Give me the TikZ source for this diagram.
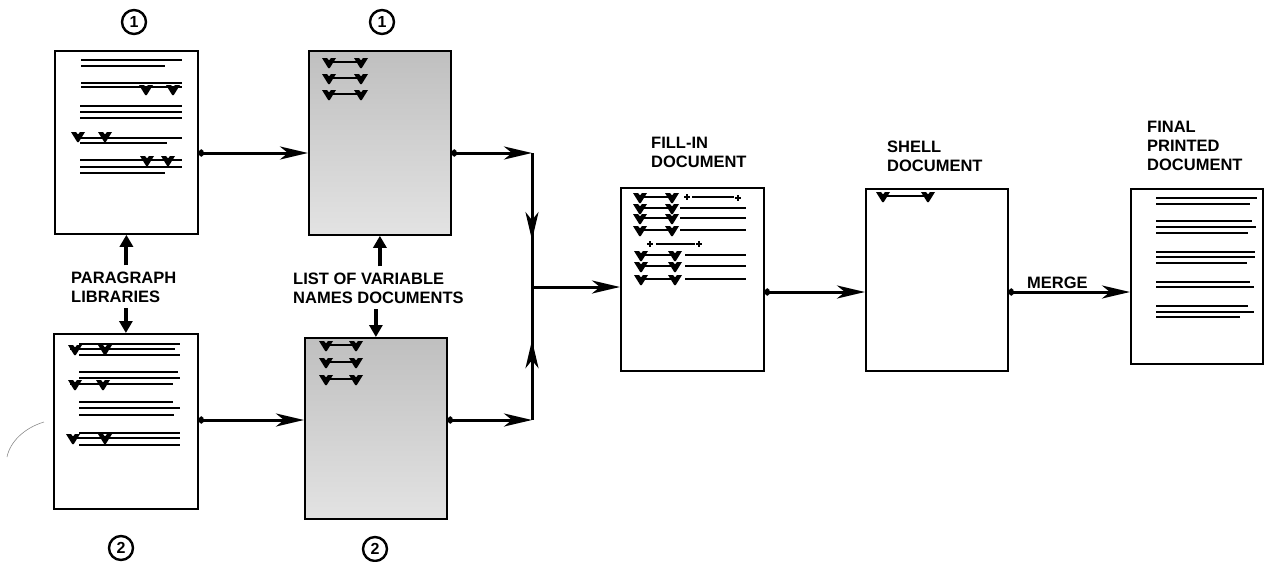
\documentclass[tikz,border=0pt]{standalone}
\usepackage{fontspec}
\setmainfont{Liberation Sans}
\usetikzlibrary{arrows.meta, positioning, calc}
\tikzset{
  font=\bfseries\fontsize{16.5}{19}\selectfont,
  >={Stealth[length=28pt, width=13pt, inset=8pt]},
  %
  page/.style={draw=black, line width=1.8pt, fill=white, anchor=north west,
               inner sep=0pt},
  pageg/.style={page, top color=black!25, bottom color=black!11},
  %
  txt/.style={line width=1.2pt},
  flow/.style={draw=black, line width=3pt, {Circle[length=5pt, width=7pt]}->},
  flowmid/.style={draw=black, line width=3pt, ->},
  wire/.style={draw=black, line width=3pt},
  feed/.style={draw=black, line width=4pt, -{Triangle[length=12pt, width=13pt]}},
  %
  lbl/.style={align=left, anchor=base west, inner xsep=0pt, inner ysep=6pt},
  num/.style={circle, draw, line width=2.4pt, inner sep=0pt, minimum size=24pt,
              font=\bfseries\fontsize{16}{16}\selectfont},
}
\newcommand{\tline}[3]{\draw[txt] (#1,#3) -- (#2,#3);}
\newcommand{\vmk}[2]{%
  \fill (#1-7,#2-5) -- (#1-2,#2-5) -- (#1,#2-2.5) -- (#1+2,#2-5)
        -- (#1+7,#2-5) -- (#1+0.8,#2+5) -- (#1-0.8,#2+5) -- cycle;}
\newcommand{\pmk}[2]{\draw[txt] (#1-3,#2) -- (#1+3,#2) (#1,#2-3) -- (#1,#2+3);}

\begin{document}
\begin{tikzpicture}[x=1pt, y=-1pt]
  \useasboundingbox (0,0) rectangle (1264,562);

  % ---- pages ------------------------------------------------------------
  \node[page,  minimum width=143pt, minimum height=183pt] (lib1)  at (54,50)   {};
  \node[pageg, minimum width=142pt, minimum height=184pt] (var1)  at (308,50)  {};
  \node[page,  minimum width=144pt, minimum height=175pt] (lib2)  at (53,333)  {};
  \node[pageg, minimum width=142pt, minimum height=181pt] (var2)  at (304,337) {};
  \node[page,  minimum width=143pt, minimum height=183pt] (fill)  at (620,187) {};
  \node[page,  minimum width=142pt, minimum height=182pt] (shell) at (865,188) {};
  \node[page,  minimum width=132pt, minimum height=175pt] (final) at (1130,188) {};

  % ---- numbers ----------------------------------------------------------
  \node[num] (n1a) at (134,22)  {1};
  \node[num] (n1b) at (382,22)  {1};
  \node[num] (n2a) at (121,548) {2};
  \node[num] (n2b) at (375,549) {2};

  % ---- labels -----------------------------------------------------------
  \node[lbl] (plib)  at (71,302)   {PARAGRAPH\\LIBRARIES};
  \node[lbl] (vlist) at (293,303)  {LIST OF VARIABLE\\NAMES  DOCUMENTS};
  \node[lbl] (tfill) at (651,167)  {FILL-IN\\DOCUMENT};
  \node[lbl] (tshel) at (887,171)  {SHELL\\DOCUMENT};
  \node[lbl] (tfin)  at (1147,170) {FINAL\\PRINTED\\DOCUMENT};
  \node[lbl] (tmrg)  at (1027,288) {MERGE};

  % ---- page contents ----------------------------------------------------
  % paragraph library 1
  \foreach \y/\a/\b in {60/81/182, 66/81/165, 83/81/182, 87/81/182,
                        106/80/182, 112/80/182, 118/80/182, 138/78/182,
                        143/80/167, 160/80/182, 167/80/182, 173/80/165}
    {\tline{\a}{\b}{\y}}
  \vmk{146}{90} \vmk{173}{90}
  \vmk{78}{137} \vmk{105}{137}
  \vmk{147}{161} \vmk{168}{161}

  % variable names 1
  \foreach \y in {63,79,95} {
    \tline{329}{361}{\y-1} \vmk{329}{\y} \vmk{361}{\y}
  }

  % paragraph library 2
  \foreach \y/\a/\b in {344/79/180, 349/70/175, 355/79/180, 372/79/178,
                        378/79/180, 384/70/173, 402/79/173, 408/79/180,
                        415/79/174, 433/79/180, 438/70/180, 445/79/180}
    {\tline{\a}{\b}{\y}}
  \vmk{75}{350} \vmk{105}{350}
  \vmk{75}{385} \vmk{103}{385}
  \vmk{73}{439} \vmk{105}{439}

  % variable names 2
  \foreach \y in {346,363,380} {
    \tline{326}{356}{\y-1} \vmk{326}{\y} \vmk{356}{\y}
  }

  % fill-in document
  \tline{640}{672}{197} \vmk{640}{198} \vmk{672}{198}
  \pmk{687}{197} \tline{692}{734}{197} \pmk{738}{198}
  \foreach \y in {209,219,231} {
    \tline{640}{672}{\y-1} \vmk{640}{\y} \vmk{672}{\y} \tline{680}{746}{\y-1}
  }
  \pmk{650}{244} \tline{656}{695}{244} \pmk{699}{244}
  \foreach \y in {256,267,280} {
    \tline{641}{675}{\y-1} \vmk{641}{\y} \vmk{675}{\y} \tline{685}{746}{\y-1}
  }

  % shell document
  \tline{883}{928}{196} \vmk{883}{197} \vmk{928}{197}

  % final printed document
  \foreach \y/\b in {198/1257, 204/1250, 221/1252, 227/1256, 233/1248,
                     252/1255, 257/1255, 263/1247, 282/1250, 287/1254,
                     306/1248, 312/1254, 317/1240}
    {\tline{1156}{\b}{\y}}

  % stray mark
  \draw[black!45, line width=0.6pt] (44,422) .. controls (24,428) and (10,442) .. (7,457);

  % ---- connectors -------------------------------------------------------
  \coordinate (r1) at (0,153);
  \coordinate (r2) at (0,420);
  \coordinate (r4) at (0,292);
  \coordinate (jn) at (532,287);

  \draw[feed] (plib.north -| lib1.south) -- (lib1.south);
  \draw[feed] (plib.south -| lib2.north) -- (lib2.north);
  \draw[feed] (vlist.north -| var1.south) -- (var1.south);
  \draw[feed] (vlist.south -| var2.north) -- (var2.north);

  \draw[flow] (lib1.east |- r1) -- (var1.west |- r1);
  \draw[flow] (lib2.east |- r2) -- (var2.west |- r2);
  \draw[flow] (var1.east |- r1) -- (jn |- r1);
  \draw[flow] (var2.east |- r2) -- (jn |- r2);
  \draw[wire] (jn |- r1) -- (jn |- r2);
  \draw[flowmid] (jn |- r1) -- ($(jn |- r1)!0.65!(jn)$);
  \draw[flowmid] (jn |- r2) -- ($(jn |- r2)!0.6!(jn)$);
  \draw[flowmid] (jn) -- (fill.west |- jn);
  \draw[flow] (fill.east |- r4) -- (shell.west |- r4);
  \draw[flow] (shell.east |- r4) -- (final.west |- r4);

\end{tikzpicture}
\end{document}
